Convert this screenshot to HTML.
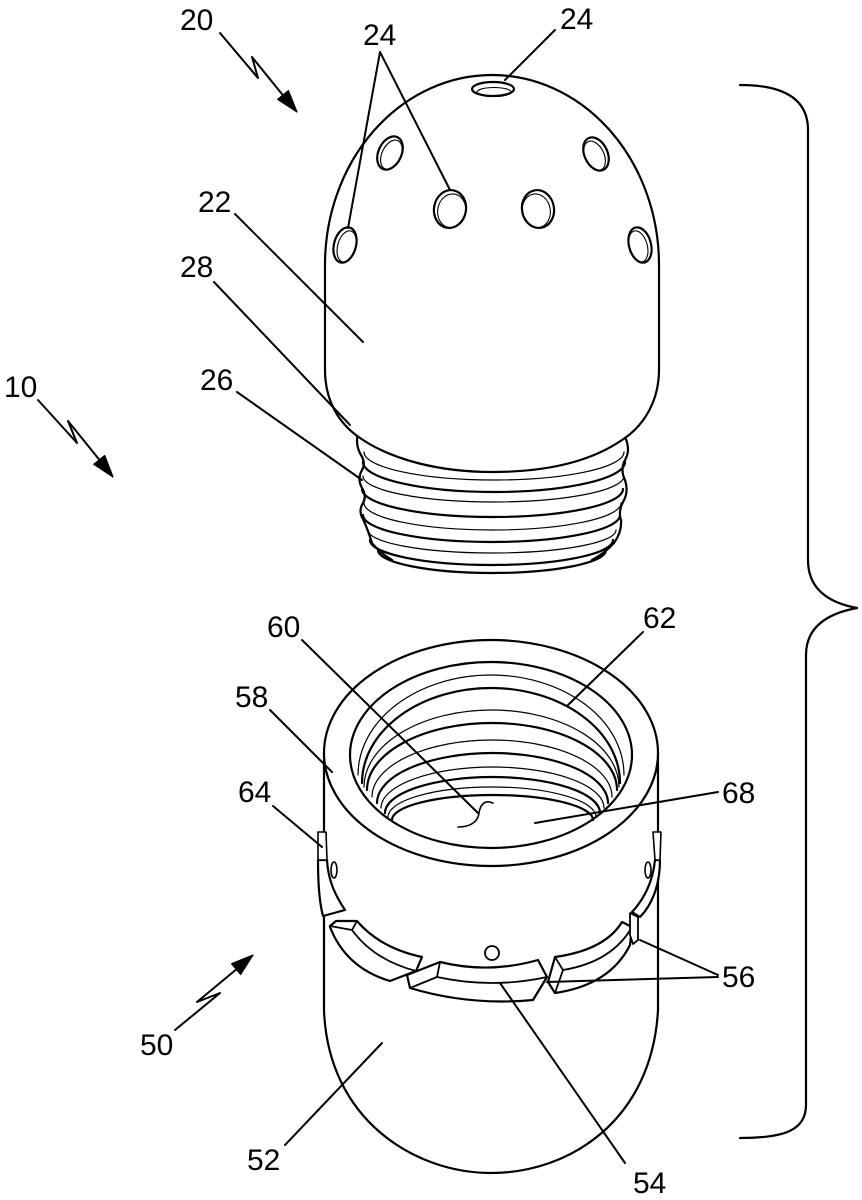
<!DOCTYPE html>
<html>
<head>
<meta charset="utf-8">
<style>
html,body{margin:0;padding:0;background:#fff;}
svg{display:block;}
text{font-family:"Liberation Sans",Arial,sans-serif;font-size:30px;fill:#000;}
</style>
</head>
<body>
<svg width="862" height="1200" viewBox="0 0 862 1200" xmlns="http://www.w3.org/2000/svg">
<rect width="862" height="1200" fill="#fff"/>
<g fill="none" stroke="#000" stroke-width="2.2" stroke-linecap="round" stroke-linejoin="round">

<!-- ===== Upper part 20: thread 26 ===== -->
<path d="M358,432 Q355,445 361,455 Q366,463 362,470 Q357,479 362,488 Q367,496 363,503 Q358,511 363,519 Q368,530 372,543 Q380,553 392,560"/>
<path d="M625,437 Q631,450 625,460 Q620,470 625,480 Q629,492 623,502 Q618,512 621,520 Q622,532 614,543 Q605,553 592,560"/>
<path d="M363,462 A131,30 0 0 0 625,462"/>
<path d="M362,489 A130.5,28 0 0 0 623,489"/>
<path d="M363,515 A128.5,27 0 0 0 620,515"/>
<path d="M370,540 A121.5,25 0 0 0 613,540"/>
<path d="M378,550 A114,23 0 0 0 606,550"/>
<g stroke-width="1.2">
<path d="M364,452 A130,28 0 0 0 624,452"/>
<path d="M363,476 A130.5,26 0 0 0 624,476"/>
<path d="M364,503 A128.5,27 0 0 0 621,503"/>
<path d="M368,530 A124,23 0 0 0 616,530"/>
</g>

<!-- head 22 -->
<path fill="#fff" d="M325,370 L325,265 A167,190 0 0 1 659,265 L659,370 C659,400 645,425 622,440 C590,462 545,472 492,472 C440,472 392,460 360,438 C338,423 325,400 325,370 Z"/>

<!-- holes 24 -->
<ellipse cx="493" cy="89" rx="21" ry="7"/>
<ellipse cx="494" cy="92" rx="17" ry="4.5" stroke-width="1.1"/>
<g transform="translate(390,153) rotate(25)"><ellipse rx="11.5" ry="17.5"/><ellipse cx="2" cy="1" rx="9.5" ry="15.5" stroke-width="1.1"/></g>
<g transform="translate(345,245) rotate(15)"><ellipse rx="11" ry="18"/><ellipse cx="2" cy="1" rx="9" ry="16" stroke-width="1.1"/></g>
<g transform="translate(450,209) rotate(10)"><ellipse rx="16" ry="19"/><ellipse cx="2" cy="1.5" rx="14" ry="17" stroke-width="1.1"/></g>
<g transform="translate(538,209) rotate(-10)"><ellipse rx="16" ry="19"/><ellipse cx="-2" cy="1.5" rx="14" ry="17" stroke-width="1.1"/></g>
<g transform="translate(596,154) rotate(-25)"><ellipse rx="11.5" ry="17.5"/><ellipse cx="-2" cy="1" rx="9.5" ry="15.5" stroke-width="1.1"/></g>
<g transform="translate(640,245) rotate(-15)"><ellipse rx="11" ry="18"/><ellipse cx="-2" cy="1" rx="9" ry="16" stroke-width="1.1"/></g>

<!-- ===== Lower part 50 ===== -->
<path fill="#fff" d="M324,753 L324,1010 C328,1120 415,1173 491,1173 C570,1173 652,1120 658,1010 L658,753"/>
<ellipse cx="491" cy="753" rx="167" ry="113" fill="#fff"/>
<ellipse cx="491" cy="755" rx="141" ry="93" fill="#fff"/>
<!-- internal threads 62 -->
<path d="M362,783 A129,95 0 0 1 620,783"/>
<path d="M367,790 A125,67 0 0 1 617,790"/>
<path d="M377,803 A115.5,50 0 0 1 608,803"/>
<path d="M385,813 A107.5,36 0 0 1 600,813"/>
<path d="M392,820 A100.5,25 0 0 1 593,820"/>
<g stroke-width="1.2">
<path d="M358,775 A133,100 0 0 1 624,775"/>
<path d="M364,787 A127.5,77 0 0 1 619,787"/>
<path d="M372,797 A120,57 0 0 1 612,797"/>
<path d="M381,808 A111.5,41 0 0 1 604,808"/>
<path d="M388,817 A104,30 0 0 1 596,817"/>
</g>
<!-- 60 squiggle -->
<path d="M493,803 C484,799 480,806 479,813 C478,822 470,827 458,827" stroke-width="1.6"/>

<!-- side bands / slots -->
<path fill="#fff" d="M318,860 C318,885 320,905 323,916 L345,910 C335,895 328,880 327,860 Z"/>
<path fill="#fff" d="M318,832 L326,832 L327,860 L318,860 Z" stroke-width="1.6"/>
<ellipse cx="334" cy="870" rx="3" ry="8" stroke-width="1.6"/>
<path fill="#fff" d="M660,860 C660,885 652,905 640,917 L632,912 C645,898 653,880 655,860 Z"/>
<path fill="#fff" d="M653,832 L661,832 L660,860 L655,860 Z" stroke-width="1.6"/>
<ellipse cx="648" cy="870" rx="3" ry="8" stroke-width="1.6"/>

<!-- lugs 56 / ring 54 -->
<path fill="#fff" d="M330,926 L336,921 L357,921 Q380,948 422,957 L416,971 L390,981 Q346,968 330,927 Z"/>
<path d="M357,921 L352,930 L330,926 M352,930 Q374,960 416,971" stroke-width="1.8"/>
<path fill="#fff" d="M407,975 L440,962 Q489,974 538,960 L547,977 L533,1000 Q470,1006 410,988 Z"/>
<path d="M440,962 L437,977 L410,988 M437,977 Q492,989 547,977" stroke-width="1.8"/>
<path fill="#fff" d="M548,982 L555,957 Q605,950 622,922 L632,927 L630,945 Q610,985 555,993 Z"/>
<path d="M555,957 L563,970 L555,993 M563,970 Q612,962 632,927" stroke-width="1.8"/>
<path fill="#fff" d="M630,913 L638,917 L638,940 L633,944 L630,935 Z" stroke-width="1.8"/>
<circle cx="492" cy="953" r="7" stroke-width="1.8"/>

<!-- ===== Leaders ===== -->
<g stroke-width="2">
<path d="M380,52 L348,228 M380,52 L450,190"/>
<path d="M555,30 L505,80"/>
<path d="M235,214 L363,342"/>
<path d="M214,282 L350,425"/>
<path d="M237,392 L362,480"/>
<path d="M302,640 L478,813"/>
<path d="M643,632 L568,705"/>
<path d="M270,710 L332,772"/>
<path d="M273,806 L322,847"/>
<path d="M718,792 L535,823"/>
<path d="M718,975 L640,940 M718,977 L547,982"/>
<path d="M285,1145 L382,1043"/>
<path d="M625,1163 L500,983"/>
</g>

<!-- arrows -->
<path d="M220,33 L258,78 L252,57 L290,104" stroke-width="2"/>
<path d="M297,112 L277.6,99.4 L288.4,90.6 Z" fill="#000" stroke-width="1.2"/>
<path d="M38,400 L77,443 L68,421 L106,468" stroke-width="2"/>
<path d="M113,477 L93.7,464.3 L104.7,455.5 Z" fill="#000" stroke-width="1.2"/>
<path d="M175,1030 L220,993 L197,1002 L244,963" stroke-width="2"/>
<path d="M253,955 L240.6,974.5 L231.6,963.7 Z" fill="#000" stroke-width="1.2"/>

<!-- bracket -->
<path d="M740,85 C785,85 808,100 808,130 L808,560 C808,590 830,603 857,608 C830,613 806,625 806,655 L806,1105 C806,1130 785,1138 740,1138"/>
</g>

<!-- labels -->
<text x="180" y="30">20</text>
<text x="363" y="45">24</text>
<text x="560" y="29">24</text>
<text x="198" y="212">22</text>
<text x="180" y="277">28</text>
<text x="4" y="397">10</text>
<text x="200" y="390">26</text>
<text x="267" y="637">60</text>
<text x="643" y="628">62</text>
<text x="235" y="707">58</text>
<text x="238" y="802">64</text>
<text x="722" y="803">68</text>
<text x="722" y="987">56</text>
<text x="140" y="1055">50</text>
<text x="247" y="1170">52</text>
<text x="633" y="1193">54</text>
</svg>
</body>
</html>
